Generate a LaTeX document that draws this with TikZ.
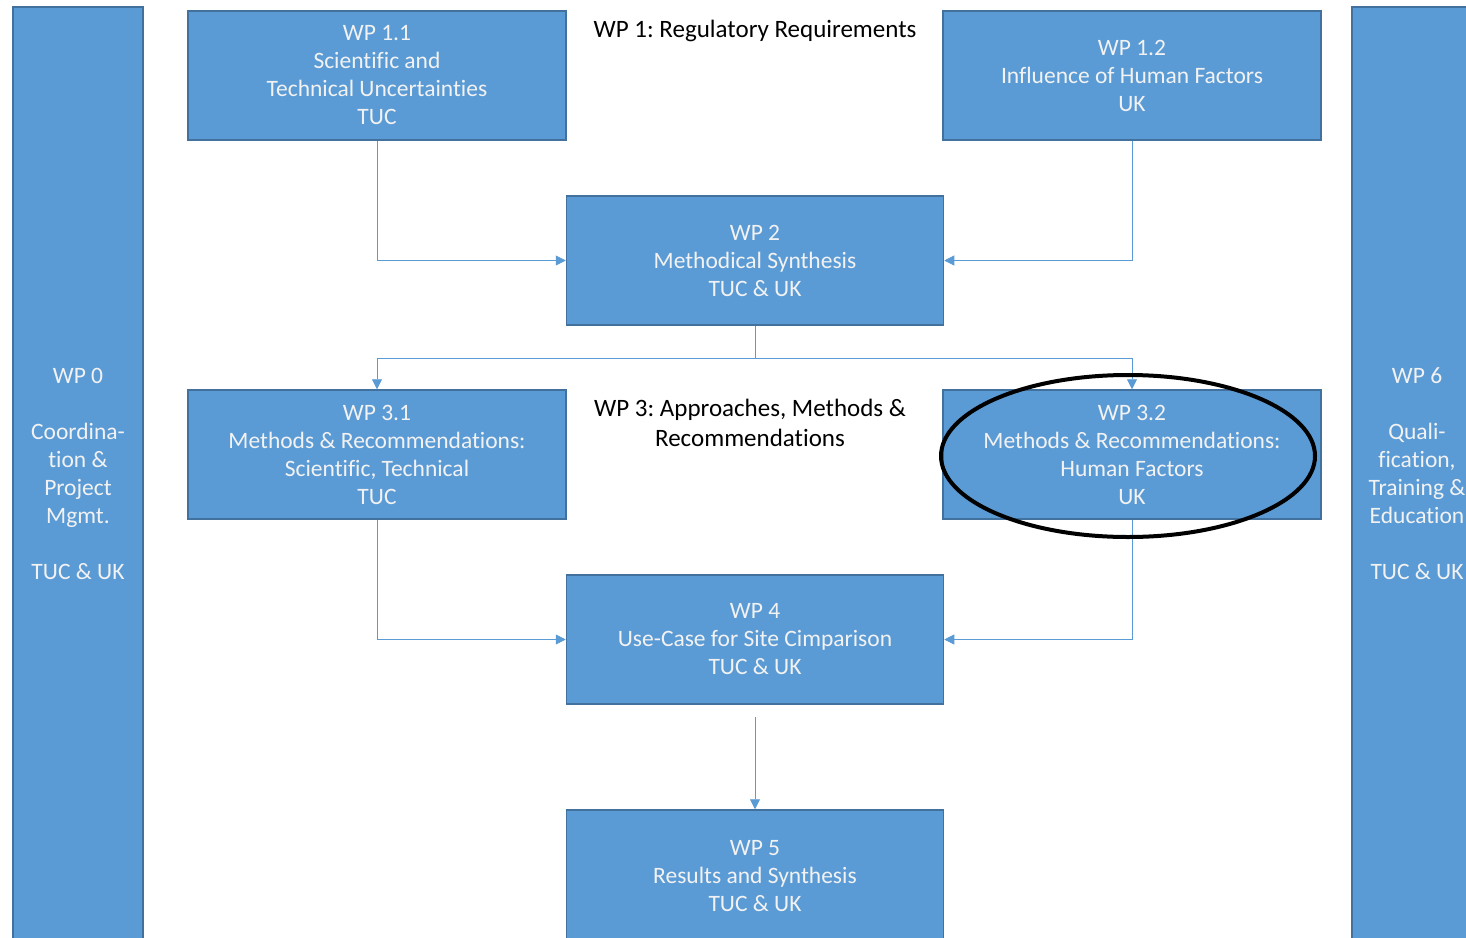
\documentclass[tikz,border=0pt]{standalone}
\usepackage{fontspec}
\setmainfont{Carlito}[Ligatures=NoCommon]
\frenchspacing
\usetikzlibrary{arrows.meta,calc}
\definecolor{boxfill}{HTML}{5B9BD5}
\definecolor{boxline}{HTML}{41719C}
\definecolor{txtw}{HTML}{F2F2F2}
\begin{document}
\begin{tikzpicture}[x=1pt,y=-1pt,
  wpbox/.style={draw=boxline,line width=1.5pt,fill=boxfill,text=txtw,
    align=center,inner sep=0pt,font=\fontsize{23.5}{28}\selectfont},
  conn/.style={draw=boxfill,line width=0.8pt},
  arr/.style={conn,-{Triangle[length=10pt,width=10pt]}},
  lbl/.style={align=center,text=black,font=\fontsize{25}{30}\selectfont}]
\useasboundingbox (0,0) rectangle (1466,937);
\begin{scope}
\clip (0,0) rectangle (1466,937);
% side boxes
\node[wpbox,minimum width=130pt,minimum height=934pt] (wp0) at (78,474)
  {WP 0\\[28pt]Coordina-\\tion \&\\Project\\Mgmt.\\[28pt]TUC \& UK};
\node[wpbox,minimum width=130pt,minimum height=934pt] (wp6) at (1417,474)
  {WP 6\\[28pt]Quali-\\fication,\\Training \&\\Education\\[28pt]TUC \& UK};
% main boxes
\node[wpbox,minimum width=378pt,minimum height=129pt] (wp11) at (377,75.5)
  {WP 1.1\\Scientific and\\Technical Uncertainties\\TUC};
\node[wpbox,minimum width=378pt,minimum height=129pt] (wp12) at (1132,75.5)
  {WP 1.2\\Influence of Human Factors\\UK};
\node[wpbox,minimum width=377pt,minimum height=129pt] (wp2) at (755,260.5)
  {WP 2\\Methodical Synthesis\\TUC \& UK};
\node[wpbox,minimum width=378pt,minimum height=129pt] (wp31) at (377,454.5)
  {WP 3.1\\Methods \& Recommendations:\\Scientific, Technical\\TUC};
\node[wpbox,minimum width=378pt,minimum height=129pt] (wp32) at (1132,454.5)
  {WP 3.2\\Methods \& Recommendations:\\Human Factors\\UK};
\node[wpbox,minimum width=377pt,minimum height=129pt] (wp4) at (755,639.5)
  {WP 4\\Use-Case for Site Cimparison\\TUC \& UK};
\node[wpbox,minimum width=377pt,minimum height=160pt] (wp5) at (755,890)
  {};
\node[text=txtw,align=center,font=\fontsize{23.5}{28}\selectfont] (wp5t) at (755,876)
  {WP 5\\Results and Synthesis\\TUC \& UK};
\end{scope}
% labels
\node[lbl] (l1) at (755,31) {WP 1: Regulatory Requirements};
\node[lbl] (l3) at (750,423) {WP 3: Approaches, Methods \&\\Recommendations};
% connectors
\draw[arr] (wp11.south) |- (wp2.west);
\draw[arr] (wp12.south) |- (wp2.east);
\coordinate (split) at ($(wp2.south)+(0,33)$);
\draw[conn] (wp2.south) -- (split);
\draw[arr] (split) -| (wp31.north);
\draw[arr] (split) -| (wp32.north);
\draw[arr] (wp31.south) |- (wp4.west);
\draw[arr] (wp32.south) |- (wp4.east);
\draw[arr,shorten <=12pt] (wp4.south) -- (wp5.north);
% ellipse highlight
\draw[black,line width=4pt] (1128,456) ellipse [x radius=187pt,y radius=81pt];
\end{tikzpicture}
\end{document}
